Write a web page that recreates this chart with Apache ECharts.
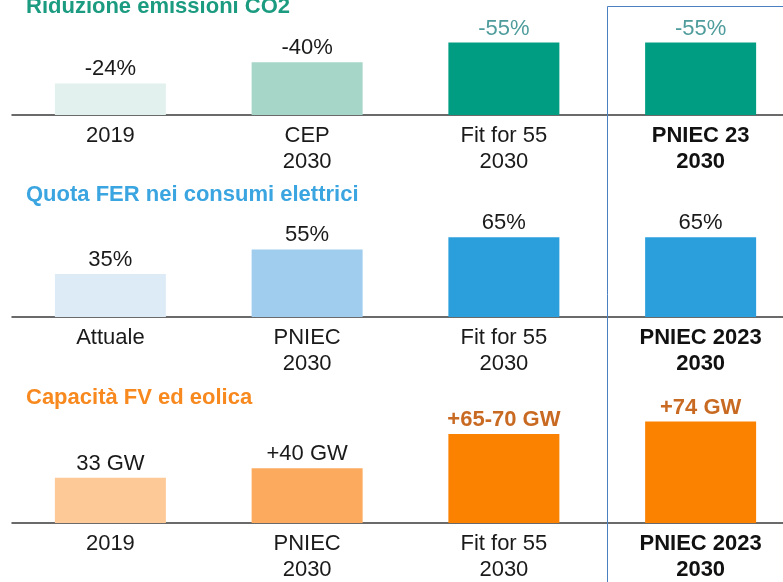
<!DOCTYPE html>
<html>
<head>
<meta charset="utf-8">
<script src="https://cdn.jsdelivr.net/npm/echarts@6/dist/echarts.min.js"></script>
<style>
    html, body {margin: 0; padding: 0; background: #ffffff;}
    #chart {width: 783px; height: 582px;}
</style>
</head>
<body>
<div id="chart"></div>
<script>
    // dati
    const co2Categories = ['2019', 'CEP\n2030', 'Fit for 55\n2030', 'PNIEC 23\n2030'];
    const co2Values = [24, 40, 55, 55];
    const co2Labels = ['-24%', '-40%', '-55%', '-55%'];

    const ferCategories = ['Attuale', 'PNIEC\n2030', 'Fit for 55\n2030', 'PNIEC 2023\n2030'];
    const ferValues = [35, 55, 65, 65];
    const ferLabels = ['35%', '55%', '65%', '65%'];

    const fvCategories = ['2019', 'PNIEC\n2030', 'Fit for 55\n2030', 'PNIEC 2023\n2030'];
    const fvValues = [33, 40, 65, 74];
    const fvLabels = ['33 GW', '+40 GW', '+65-70 GW', '+74 GW'];

    const titles = ['Riduzione emissioni CO2', 'Quota FER nei consumi elettrici', 'Capacità FV ed eolica'];

    const FONT = "'Liberation Sans', Arial, sans-serif";

    const panels = [
        {
            categories: co2Categories, values: co2Values, labels: co2Labels,
            colors: ['#e2f1ed', '#a6d6c7', '#009d82', '#009d82'],
            labelColors: ['#1a1a1a', '#1a1a1a', '#4f9c9c', '#4f9c9c'],
            labelBold: [false, false, false, false],
            titleColor: '#1b9b80', titleTop: -4,
            top: 36, height: 79, max: 60
        },
        {
            categories: ferCategories, values: ferValues, labels: ferLabels,
            colors: ['#ddebf7', '#a0cdee', '#2b9fdc', '#2b9fdc'],
            labelColors: ['#1a1a1a', '#1a1a1a', '#1a1a1a', '#1a1a1a'],
            labelBold: [false, false, false, false],
            titleColor: '#3aa5e0', titleTop: 184,
            top: 231, height: 86, max: 70
        },
        {
            categories: fvCategories, values: fvValues, labels: fvLabels,
            colors: ['#fdc996', '#fcab5e', '#fb8200', '#fb8200'],
            labelColors: ['#1a1a1a', '#1a1a1a', '#c96a22', '#c96a22'],
            labelBold: [false, false, true, true],
            titleColor: '#f7891f', titleTop: 387,
            top: 413.4, height: 109.6, max: 80
        }
    ];

    const option = {
        backgroundColor: '#ffffff',
        animation: false,
        title: panels.map(function (p, i) {
            return {
                text: titles[i],
                left: 26,
                top: p.titleTop,
                padding: 0,
                textStyle: {color: p.titleColor, fontSize: 22, fontWeight: 'bold', fontFamily: FONT}
            };
        }),
        grid: panels.map(function (p) {
            return {left: 12, width: 787, top: p.top, height: p.height, outerBoundsMode: 'none', containLabel: false};
        }),
        xAxis: panels.map(function (p, i) {
            return {
                type: 'category',
                gridIndex: i,
                data: p.categories,
                axisLine: {lineStyle: {color: '#3a3a3a', width: 1.5}},
                axisTick: {show: false},
                axisLabel: {
                    interval: 0,
                    margin: 8,
                    color: '#1a1a1a',
                    fontSize: 22,
                    lineHeight: 26,
                    fontFamily: FONT,
                    formatter: function (value, idx) {
                        if (idx === p.categories.length - 1) {
                            return value.split('\n').map(function (s) { return '{b|' + s + '}'; }).join('\n');
                        }
                        return value;
                    },
                    rich: {
                        b: {fontWeight: 'bold', fontSize: 22, lineHeight: 26, color: '#111111', fontFamily: FONT}
                    }
                }
            };
        }),
        yAxis: panels.map(function (p, i) {
            return {type: 'value', gridIndex: i, min: 0, max: p.max, show: false, splitLine: {show: false}};
        }),
        series: panels.map(function (p, i) {
            return {
                type: 'bar',
                xAxisIndex: i,
                yAxisIndex: i,
                barWidth: 111,
                data: p.values.map(function (v, j) {
                    return {
                        value: v,
                        itemStyle: {color: p.colors[j]},
                        label: {
                            color: p.labelColors[j],
                            fontWeight: p.labelBold[j] ? 'bold' : 'normal'
                        }
                    };
                }),
                label: {
                    show: true,
                    position: 'top',
                    distance: 3,
                    fontSize: 22,
                    fontFamily: FONT,
                    formatter: function (params) {
                        return p.labels[params.dataIndex];
                    }
                }
            };
        }),
        graphic: [
            {
                type: 'rect',
                shape: {x: 607.5, y: 6.5, width: 300, height: 700},
                style: {fill: 'none', stroke: '#4a7fc1', lineWidth: 1},
                z: 10
            }
        ]
    };

    const myChart = echarts.init(document.getElementById('chart'));
    myChart.setOption(option);
</script>
</body>
</html>
